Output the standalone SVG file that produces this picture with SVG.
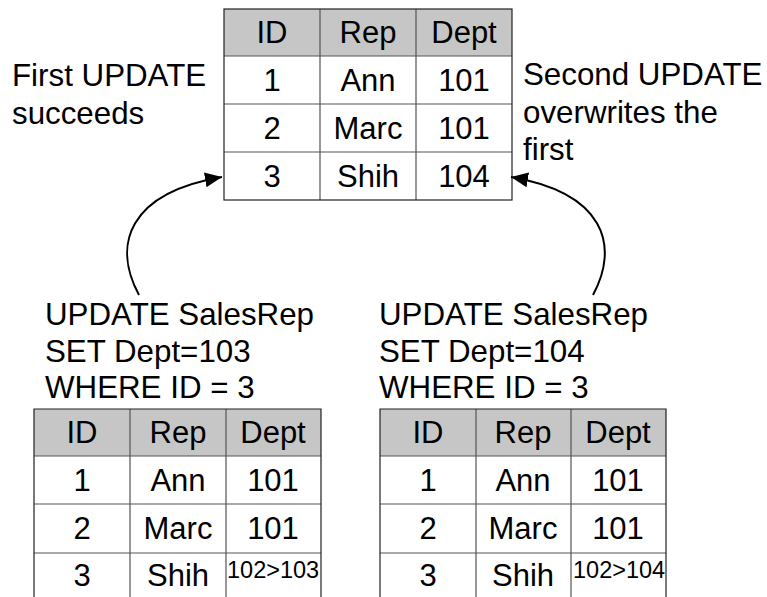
<svg xmlns="http://www.w3.org/2000/svg" width="767" height="597" viewBox="0 0 767 597">
<style>
text{font-family:"Liberation Sans",Arial,sans-serif;fill:#000}
.t{font-size:31.3px}
.c{font-size:31px;text-anchor:middle}
.s{font-size:23.5px}
.hdr{fill:#c6c6c6;stroke:none}
.cell{fill:#fff;stroke:none}
.grid{stroke:#555;stroke-width:1.2;fill:none}
.outer{stroke:#222;stroke-width:1.2;fill:none}
.conn{stroke:#000;stroke-width:2;fill:none}
</style>
<defs>
<marker id="ah" markerUnits="userSpaceOnUse" markerWidth="18" markerHeight="15" refX="17" refY="7.5" orient="auto">
<path d="M0,0 L17,7.5 L0,15 z" fill="#000"/>
</marker>
</defs>
<rect width="767" height="597" fill="#fff"/>

<g id="table-top">
<rect class="hdr" x="224" y="9" width="288" height="47"/>
<rect class="cell" x="224" y="56" width="288" height="144"/>
<path class="grid" d="M224,56H512M224,104H512M224,152H512M320,9V200M416,9V200"/>
<rect class="outer" x="224" y="9" width="288" height="191"/>
<text class="c" x="272" y="43">ID</text>
<text class="c" x="368" y="43">Rep</text>
<text class="c" x="464" y="43">Dept</text>
<text class="c" x="272" y="91">1</text>
<text class="c" x="368" y="91">Ann</text>
<text class="c" x="464" y="91">101</text>
<text class="c" x="272" y="139">2</text>
<text class="c" x="368" y="139">Marc</text>
<text class="c" x="464" y="139">101</text>
<text class="c" x="272" y="187">3</text>
<text class="c" x="368" y="187">Shih</text>
<text class="c" x="464" y="187">104</text>
</g>

<g id="label-first">
<text class="t" x="12" y="86">First UPDATE</text>
<text class="t" x="12" y="124">succeeds</text>
</g>

<g id="label-second">
<text class="t" x="523" y="85">Second UPDATE</text>
<text class="t" x="523" y="123">overwrites the</text>
<text class="t" x="523" y="160">first</text>
</g>

<g id="sql-left">
<text class="t" x="45" y="325">UPDATE SalesRep</text>
<text class="t" x="45" y="362">SET Dept=103</text>
<text class="t" x="45" y="398">WHERE ID = 3</text>
</g>

<g id="sql-right">
<text class="t" x="379" y="325">UPDATE SalesRep</text>
<text class="t" x="379" y="362">SET Dept=104</text>
<text class="t" x="379" y="398">WHERE ID = 3</text>
</g>

<g id="table-left">
<rect class="hdr" x="34" y="409" width="287" height="47"/>
<path class="grid" d="M34,456H321M34,504H321M34,553H321M130,409V597M226,409V597"/>
<path class="outer" d="M34,597V409H321V597"/>
<text class="c" x="82" y="443">ID</text>
<text class="c" x="178" y="443">Rep</text>
<text class="c" x="273" y="443">Dept</text>
<text class="c" x="82" y="491">1</text>
<text class="c" x="178" y="491">Ann</text>
<text class="c" x="273" y="491">101</text>
<text class="c" x="82" y="539">2</text>
<text class="c" x="178" y="539">Marc</text>
<text class="c" x="273" y="539">101</text>
<text class="c" x="82" y="586">3</text>
<text class="c" x="178" y="586">Shih</text>
<text class="s" x="227" y="578">102&gt;103</text>
</g>

<g id="table-right">
<rect class="hdr" x="380" y="409" width="286" height="47"/>
<path class="grid" d="M380,456H666M380,504H666M380,553H666M476,409V597M571,409V597"/>
<path class="outer" d="M380,597V409H666V597"/>
<text class="c" x="428" y="443">ID</text>
<text class="c" x="523" y="443">Rep</text>
<text class="c" x="618" y="443">Dept</text>
<text class="c" x="428" y="491">1</text>
<text class="c" x="523" y="491">Ann</text>
<text class="c" x="618" y="491">101</text>
<text class="c" x="428" y="539">2</text>
<text class="c" x="523" y="539">Marc</text>
<text class="c" x="618" y="539">101</text>
<text class="c" x="428" y="586">3</text>
<text class="c" x="523" y="586">Shih</text>
<text class="s" x="573" y="578">102&gt;104</text>
</g>

<g id="connectors">
<path class="conn" d="M139,295 C112,245 128,193 222,177" marker-end="url(#ah)"/>
<path class="conn" d="M593,295 C620,245 604,193 511,177" marker-end="url(#ah)"/>
</g>
</svg>
